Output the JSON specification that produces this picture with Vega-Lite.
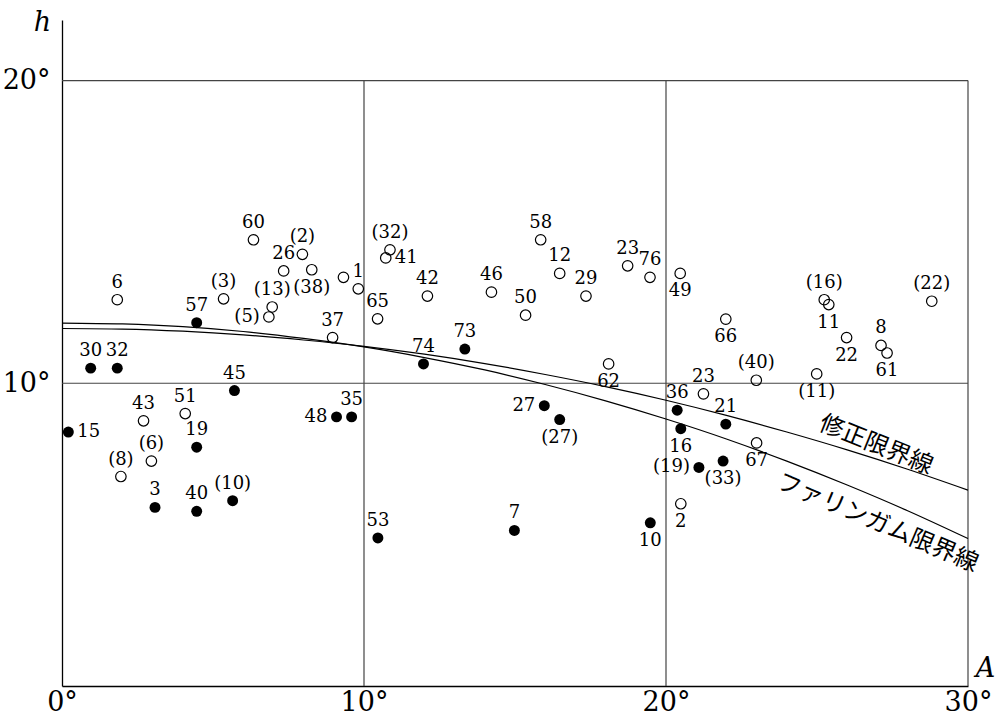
{
  "$schema": "https://vega.github.io/schema/vega-lite/v6.json",
  "width": 906,
  "height": 666,
  "autosize": {"type": "none"},
  "padding": {"left": 62, "top": 20, "right": 39, "bottom": 34},
  "background": "white",
  "config": {"view": {"stroke": null}},
  "datasets": {
    "frame": [
      {"A": 10, "A2": 10, "h": 0, "h2": 20},
      {"A": 20, "A2": 20, "h": 0, "h2": 20},
      {"A": 30, "A2": 30, "h": 0, "h2": 20},
      {"A": 0, "A2": 30, "h": 10, "h2": 10},
      {"A": 0, "A2": 30, "h": 20, "h2": 20}
    ],
    "curves": [
      {"curve": "F", "A": 0, "h": 11.99}, {"curve": "F", "A": 2, "h": 11.96}, {"curve": "F", "A": 4, "h": 11.87},
      {"curve": "F", "A": 6, "h": 11.71}, {"curve": "F", "A": 8, "h": 11.48}, {"curve": "F", "A": 10, "h": 11.2},
      {"curve": "F", "A": 12, "h": 10.85}, {"curve": "F", "A": 14, "h": 10.44}, {"curve": "F", "A": 16, "h": 9.96},
      {"curve": "F", "A": 18, "h": 9.42}, {"curve": "F", "A": 20, "h": 8.82}, {"curve": "F", "A": 22, "h": 8.16},
      {"curve": "F", "A": 24, "h": 7.43}, {"curve": "F", "A": 26, "h": 6.64}, {"curve": "F", "A": 28, "h": 5.79},
      {"curve": "F", "A": 30, "h": 4.87},
      {"curve": "M", "A": 0, "h": 11.81}, {"curve": "M", "A": 2, "h": 11.79}, {"curve": "M", "A": 4, "h": 11.72},
      {"curve": "M", "A": 6, "h": 11.6}, {"curve": "M", "A": 8, "h": 11.43}, {"curve": "M", "A": 10, "h": 11.22},
      {"curve": "M", "A": 12, "h": 10.96}, {"curve": "M", "A": 14, "h": 10.65}, {"curve": "M", "A": 16, "h": 10.29},
      {"curve": "M", "A": 18, "h": 9.89}, {"curve": "M", "A": 20, "h": 9.44}, {"curve": "M", "A": 22, "h": 8.94},
      {"curve": "M", "A": 24, "h": 8.39}, {"curve": "M", "A": 26, "h": 7.8}, {"curve": "M", "A": 28, "h": 7.16},
      {"curve": "M", "A": 30, "h": 6.47}
    ],
    "points": [
      {"A": 1.83, "h": 12.76, "label": "6", "type": "open", "side": "t"},
      {"A": 5.35, "h": 12.79, "label": "(3)", "type": "open", "side": "t"},
      {"A": 6.34, "h": 14.74, "label": "60", "type": "open", "side": "t"},
      {"A": 7.96, "h": 14.26, "label": "(2)", "type": "open", "side": "t"},
      {"A": 7.34, "h": 13.71, "label": "26", "type": "open", "side": "t"},
      {"A": 8.27, "h": 13.75, "label": "(38)", "type": "open", "side": "b"},
      {"A": 6.96, "h": 12.52, "label": "(13)", "type": "open", "side": "t"},
      {"A": 6.85, "h": 12.19, "label": "(5)", "type": "open", "side": "l"},
      {"A": 9.32, "h": 13.5, "label": "", "type": "open", "side": "n"},
      {"A": 9.81, "h": 13.12, "label": "1", "type": "open", "side": "t"},
      {"A": 8.96, "h": 11.51, "label": "37", "type": "open", "side": "t"},
      {"A": 2.7, "h": 8.76, "label": "43", "type": "open", "side": "t"},
      {"A": 4.08, "h": 9.0, "label": "51", "type": "open", "side": "t"},
      {"A": 2.96, "h": 7.43, "label": "(6)", "type": "open", "side": "t"},
      {"A": 1.95, "h": 6.92, "label": "(8)", "type": "open", "side": "t"},
      {"A": 10.86, "h": 14.41, "label": "(32)", "type": "open", "side": "t"},
      {"A": 10.72, "h": 14.14, "label": "41", "type": "open", "side": "r"},
      {"A": 12.1, "h": 12.88, "label": "42", "type": "open", "side": "t"},
      {"A": 14.22, "h": 13.01, "label": "46", "type": "open", "side": "t"},
      {"A": 15.85, "h": 14.74, "label": "58", "type": "open", "side": "t"},
      {"A": 16.48, "h": 13.63, "label": "12", "type": "open", "side": "t"},
      {"A": 17.35, "h": 12.88, "label": "29", "type": "open", "side": "t"},
      {"A": 15.35, "h": 12.25, "label": "50", "type": "open", "side": "t"},
      {"A": 18.73, "h": 13.88, "label": "23", "type": "open", "side": "t"},
      {"A": 10.45, "h": 12.13, "label": "65", "type": "open", "side": "t"},
      {"A": 18.1, "h": 10.64, "label": "62", "type": "open", "side": "b"},
      {"A": 19.47, "h": 13.5, "label": "76", "type": "open", "side": "t"},
      {"A": 20.47, "h": 13.63, "label": "49", "type": "open", "side": "b"},
      {"A": 21.98, "h": 12.12, "label": "66", "type": "open", "side": "b"},
      {"A": 25.24, "h": 12.76, "label": "(16)", "type": "open", "side": "t"},
      {"A": 25.39, "h": 12.6, "label": "11", "type": "open", "side": "b"},
      {"A": 28.8, "h": 12.71, "label": "(22)", "type": "open", "side": "t"},
      {"A": 25.98, "h": 11.51, "label": "22", "type": "open", "side": "b"},
      {"A": 27.12, "h": 11.25, "label": "8", "type": "open", "side": "t"},
      {"A": 27.32, "h": 11.0, "label": "61", "type": "open", "side": "b"},
      {"A": 22.99, "h": 10.1, "label": "(40)", "type": "open", "side": "t"},
      {"A": 24.99, "h": 10.31, "label": "(11)", "type": "open", "side": "b"},
      {"A": 21.24, "h": 9.65, "label": "23", "type": "open", "side": "t"},
      {"A": 23.0, "h": 8.03, "label": "67", "type": "open", "side": "b"},
      {"A": 20.49, "h": 6.02, "label": "2", "type": "open", "side": "b"},
      {"A": 4.46, "h": 12.0, "label": "57", "type": "filled", "side": "t"},
      {"A": 0.95, "h": 10.5, "label": "30", "type": "filled", "side": "t"},
      {"A": 1.83, "h": 10.5, "label": "32", "type": "filled", "side": "t"},
      {"A": 5.71, "h": 9.76, "label": "45", "type": "filled", "side": "t"},
      {"A": 0.21, "h": 8.39, "label": "15", "type": "filled", "side": "r"},
      {"A": 4.46, "h": 7.89, "label": "19", "type": "filled", "side": "t"},
      {"A": 3.08, "h": 5.9, "label": "3", "type": "filled", "side": "t"},
      {"A": 4.46, "h": 5.77, "label": "40", "type": "filled", "side": "t"},
      {"A": 5.65, "h": 6.12, "label": "(10)", "type": "filled", "side": "t"},
      {"A": 9.09, "h": 8.89, "label": "48", "type": "filled", "side": "l"},
      {"A": 9.59, "h": 8.89, "label": "35", "type": "filled", "side": "t"},
      {"A": 13.34, "h": 11.13, "label": "73", "type": "filled", "side": "t"},
      {"A": 11.97, "h": 10.64, "label": "74", "type": "filled", "side": "t"},
      {"A": 15.97, "h": 9.26, "label": "27", "type": "filled", "side": "l"},
      {"A": 16.48, "h": 8.8, "label": "(27)", "type": "filled", "side": "b"},
      {"A": 14.98, "h": 5.14, "label": "7", "type": "filled", "side": "t"},
      {"A": 10.46, "h": 4.89, "label": "53", "type": "filled", "side": "t"},
      {"A": 20.37, "h": 9.11, "label": "36", "type": "filled", "side": "t"},
      {"A": 20.49, "h": 8.5, "label": "16", "type": "filled", "side": "b"},
      {"A": 21.98, "h": 8.65, "label": "21", "type": "filled", "side": "t"},
      {"A": 21.09, "h": 7.22, "label": "(19)", "type": "filled", "side": "l"},
      {"A": 21.89, "h": 7.43, "label": "(33)", "type": "filled", "side": "b"},
      {"A": 19.48, "h": 5.39, "label": "10", "type": "filled", "side": "b"}
    ],
    "labM": [{"A": 26.95, "h": 7.95, "name": "修正限界線"}],
    "labF": [{"A": 27.0, "h": 5.38, "name": "ファリンガム限界線"}]
  },
  "layer": [
    {
      "data": {"name": "frame"},
      "mark": {"type": "rule", "color": "#444444", "strokeWidth": 1.2},
      "encoding": {
        "x": {
          "field": "A", "type": "quantitative",
          "scale": {"domain": [0, 30], "nice": false, "zero": false},
          "axis": {
            "values": [0, 10, 20, 30], "labelExpr": "datum.value + '°'",
            "ticks": false, "grid": false, "domainColor": "black", "domainWidth": 1.3,
            "labelFont": "DejaVu Serif", "labelFontSize": 27, "labelColor": "black",
            "labelPadding": 3, "labelFlush": false, "labelOverlap": false,
            "title": "A", "titleFont": "DejaVu Serif", "titleFontStyle": "italic",
            "titleFontWeight": "normal", "titleFontSize": 27, "titleColor": "black",
            "titleX": 923, "titleY": -18, "titleAlign": "center", "titleBaseline": "middle"
          }
        },
        "x2": {"field": "A2"},
        "y": {
          "field": "h", "type": "quantitative",
          "scale": {"domain": [0, 22], "nice": false, "zero": false},
          "axis": {
            "values": [10, 20], "labelExpr": "datum.value + '°'",
            "ticks": false, "grid": false, "domainColor": "black", "domainWidth": 1.3,
            "labelFont": "DejaVu Serif", "labelFontSize": 27, "labelColor": "black",
            "labelPadding": 12, "labelFlush": false, "labelOverlap": false,
            "title": "h", "titleFont": "DejaVu Serif", "titleFontStyle": "italic",
            "titleFontWeight": "normal", "titleFontSize": 27, "titleColor": "black",
            "titleAngle": 0, "titleX": -20, "titleY": 2, "titleAlign": "center", "titleBaseline": "middle"
          }
        },
        "y2": {"field": "h2"}
      }
    },
    {
      "data": {"name": "curves"},
      "mark": {"type": "line", "color": "black", "strokeWidth": 1.2, "interpolate": "monotone"},
      "encoding": {
        "x": {"field": "A", "type": "quantitative"},
        "y": {"field": "h", "type": "quantitative"},
        "detail": {"field": "curve"}
      }
    },
    {
      "data": {"name": "points"},
      "transform": [{"filter": "datum.type == 'open'"}],
      "mark": {"type": "point", "shape": "circle", "filled": false, "stroke": "black", "strokeWidth": 1.2, "size": 110, "opacity": 1},
      "encoding": {
        "x": {"field": "A", "type": "quantitative"},
        "y": {"field": "h", "type": "quantitative"}
      }
    },
    {
      "data": {"name": "points"},
      "transform": [{"filter": "datum.type == 'filled'"}],
      "mark": {"type": "point", "shape": "circle", "filled": true, "fill": "black", "size": 120, "opacity": 1},
      "encoding": {
        "x": {"field": "A", "type": "quantitative"},
        "y": {"field": "h", "type": "quantitative"}
      }
    },
    {
      "data": {"name": "points"},
      "transform": [{"filter": "datum.side == 't'"}],
      "mark": {"type": "text", "font": "DejaVu Serif", "fontSize": 18, "color": "black", "align": "center", "baseline": "middle", "dy": -17},
      "encoding": {
        "x": {"field": "A", "type": "quantitative"},
        "y": {"field": "h", "type": "quantitative"},
        "text": {"field": "label"}
      }
    },
    {
      "data": {"name": "points"},
      "transform": [{"filter": "datum.side == 'b'"}],
      "mark": {"type": "text", "font": "DejaVu Serif", "fontSize": 18, "color": "black", "align": "center", "baseline": "middle", "dy": 18},
      "encoding": {
        "x": {"field": "A", "type": "quantitative"},
        "y": {"field": "h", "type": "quantitative"},
        "text": {"field": "label"}
      }
    },
    {
      "data": {"name": "points"},
      "transform": [{"filter": "datum.side == 'l'"}],
      "mark": {"type": "text", "font": "DejaVu Serif", "fontSize": 18, "color": "black", "align": "right", "baseline": "middle", "dx": -9},
      "encoding": {
        "x": {"field": "A", "type": "quantitative"},
        "y": {"field": "h", "type": "quantitative"},
        "text": {"field": "label"}
      }
    },
    {
      "data": {"name": "points"},
      "transform": [{"filter": "datum.side == 'r'"}],
      "mark": {"type": "text", "font": "DejaVu Serif", "fontSize": 18, "color": "black", "align": "left", "baseline": "middle", "dx": 9},
      "encoding": {
        "x": {"field": "A", "type": "quantitative"},
        "y": {"field": "h", "type": "quantitative"},
        "text": {"field": "label"}
      }
    },
    {
      "data": {"name": "labM"},
      "mark": {"type": "text", "font": "Noto Sans CJK JP", "fontSize": 24, "color": "black", "align": "center", "baseline": "middle", "angle": 22},
      "encoding": {
        "x": {"field": "A", "type": "quantitative"},
        "y": {"field": "h", "type": "quantitative"},
        "text": {"field": "name"}
      }
    },
    {
      "data": {"name": "labF"},
      "mark": {"type": "text", "font": "Noto Sans CJK JP", "fontSize": 24, "color": "black", "align": "center", "baseline": "middle", "angle": 23},
      "encoding": {
        "x": {"field": "A", "type": "quantitative"},
        "y": {"field": "h", "type": "quantitative"},
        "text": {"field": "name"}
      }
    }
  ]
}
